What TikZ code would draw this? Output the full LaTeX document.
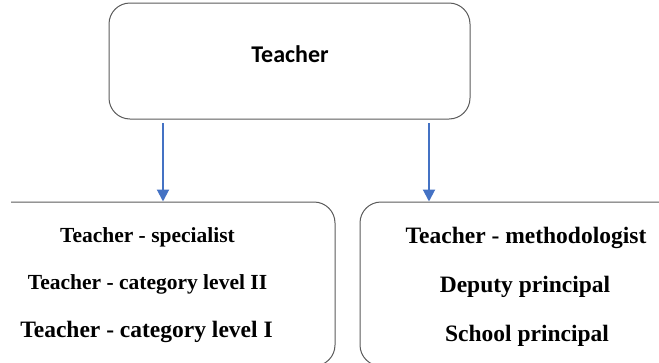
\documentclass[tikz,border=0pt]{standalone}
\usepackage{fontspec}
\setmainfont{Liberation Serif}
\newfontfamily\headfont{Carlito}
\usetikzlibrary{arrows.meta}
\definecolor{arrblue}{RGB}{68,114,196}
\definecolor{edgegray}{RGB}{90,90,90}
\tikzset{
  box/.style={draw=edgegray,line width=1pt,rounded corners=21pt},
  arr/.style={draw=arrblue,line width=2pt,-{Triangle[width=12pt,length=12pt]}},
  rank/.style={font=\bfseries\fontsize{23.5}{26}\selectfont,anchor=base,inner sep=0pt},
  ranksm/.style={rank,font=\bfseries\fontsize{21.5}{24}\selectfont}
}
\begin{document}
\begin{tikzpicture}[x=1pt,y=-1pt]
  \useasboundingbox (0,0) rectangle (659,362);
  \clip (11,0) rectangle (659,362);
  % head box
  \node[box,minimum width=361pt,minimum height=116pt] (top) at (289.5,61) {};
  \node[font=\headfont\bfseries\fontsize{24}{28}\selectfont,anchor=base,inner sep=0pt] (teacher) at (290,62) {Teacher};
  % lower boxes run past the page edges
  \node[box,minimum width=375pt,minimum height=164pt] (lbox) at (147.5,284) {};
  \node[box,minimum width=340pt,minimum height=164pt] (rbox) at (530,284) {};
  \node[ranksm] (spec) at (147.5,242) {Teacher - specialist};
  \node[ranksm] (cat2) at (147.5,289) {Teacher - category level II};
  \node[rank] (cat1) at (146.5,337) {Teacher - category level I};
  \node[rank] (meth) at (526,243) {Teacher - methodologist};
  \node[rank] (dep) at (525,292) {Deputy principal};
  \node[rank] (prin) at (527,341) {School principal};
  % links
  \coordinate (a1) at (163,123); \coordinate (a2) at (429,123);
  \draw[arr] (a1) -- (a1 |- lbox.north);
  \draw[arr] (a2) -- (a2 |- rbox.north);
\end{tikzpicture}
\end{document}
